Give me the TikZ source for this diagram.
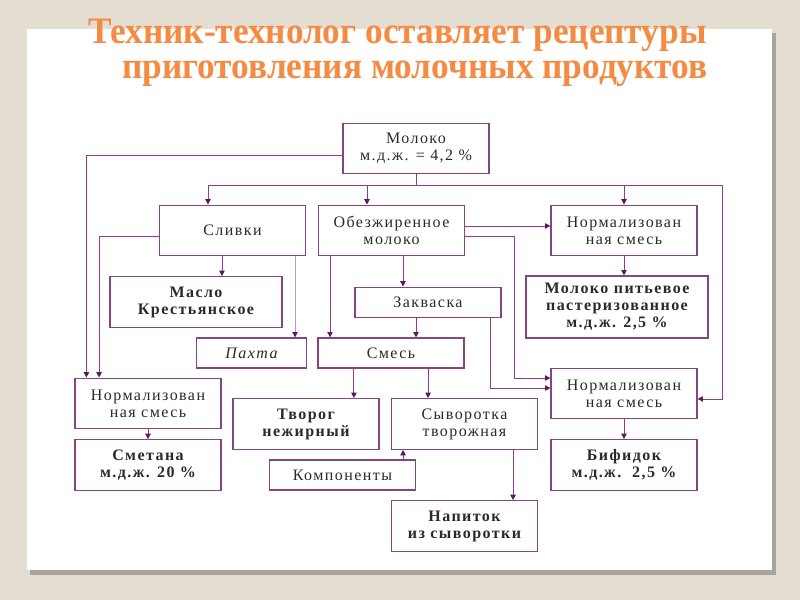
\documentclass[tikz,border=0pt]{standalone}
\usepackage{fontspec}
\usepackage{xcolor}
\usepackage{tikz}
\usetikzlibrary{arrows.meta,positioning,calc}
\newfontfamily\boxfont{Liberation Serif}[LetterSpace=9]
\newfontfamily\titlefont{Liberation Serif}[FakeStretch=0.945]
\definecolor{slidebg}{HTML}{E3DDD2}
\definecolor{slideshadow}{HTML}{A9A59C}
\definecolor{titleorange}{HTML}{F58A42}
\definecolor{boxpurple}{HTML}{85457F}
\definecolor{linepurple}{HTML}{8E3E8A}
\definecolor{tippurple}{HTML}{5A1A5C}
\definecolor{textgray}{HTML}{2A2A2A}
\tikzstyle{box} = [rectangle, draw=boxpurple, line width=0.9pt, fill=white, align=center, text=textgray, minimum width=109.5pt, minimum height=38pt, inner sep=1pt, font=\boxfont\fontsize{12}{12.8}\selectfont]
\tikzstyle{product} = [box, font=\boxfont\bfseries\fontsize{12}{12.8}\selectfont]
\tikzstyle{arrow} = [-{Triangle[length=4pt, width=4pt, color=tippurple]}, draw=linepurple, line width=0.7pt]
\tikzstyle{line} = [draw=linepurple, line width=0.7pt]

\begin{document}
\begin{tikzpicture}[x=0.75pt, y=-0.75pt]
\useasboundingbox (0,0) rectangle (800,600);
% slide
\fill[slidebg] (0,0) rectangle (800,600);
\fill[slideshadow] (30,33) rectangle (776,575);
\fill[white] (27,29) rectangle (772,570);
\node[anchor=base west, inner sep=0, align=left, text=titleorange, font=\titlefont\bfseries\fontsize{28}{26}\selectfont] (title) at (88,78) {Техник-технолог оставляет рецептуры\\\hspace*{25.5pt}приготовления молочных продуктов};

% boxes
\node[box] (milk) at (416,148.5) {Молоко\\м.д.ж. = 4,2 \%};
\node[box] (cream) at (232.5,230.5) {Сливки};
\node[box] (skim) at (391.5,230.5) {Обезжиренное\\молоко};
\node[box] (normtop) at (624,230.5) {Нормализован\\ная смесь};
\node[product, minimum width=129pt] (butter) at (196,302) {Масло\\Крестьянское};
\node[box, minimum height=23pt] (starter) at (428,302.5) {Закваска};
\node[product, minimum width=136.5pt, minimum height=46.5pt] (drink) at (617,307) {Молоко питьевое\\пастеризованное\\м.д.ж. 2,5 \%};
\node[box, minimum width=82pt, minimum height=22.5pt, font=\boxfont\itshape\fontsize{12}{12.8}\selectfont] (pakhta) at (251.5,353) {Пахта};
\node[box, minimum height=22.5pt] (mix) at (391,353) {Смесь};
\node[box] (normleft) at (148,403.5) {Нормализован\\ная смесь};
\node[box] (normmid) at (624,393.5) {Нормализован\\ная смесь};
\node[product] (curd) at (306,424) {Творог\\нежирный};
\node[box] (whey) at (464.5,424) {Сыворотка\\творожная};
\node[product] (sourcream) at (148,465) {Сметана\\м.д.ж. 20 \%};
\node[box, minimum height=22.5pt] (components) at (342.5,475) {Компоненты};
\node[product] (bifidok) at (624,465) {Бифидок\\м.д.ж.~~2,5 \%};
\node[product] (wheydrink) at (464.5,526) {Напиток\\из сыворотки};

% connectors
\coordinate (bus) at ($(milk.south)+(0,11)$);
\coordinate (rside) at ([xshift=18.75pt,yshift=-4.1pt]normmid.east);
\coordinate (skimturn) at ([xshift=36.8pt,yshift=-4.1pt]skim.east);
\draw[line] (milk.south) -- (bus);
\draw[arrow] (bus) -| ([xshift=-18.4pt]cream.north);
\draw[arrow] (bus) -| ([xshift=-18.4pt]skim.north);
\draw[arrow] (bus) -| (normtop.north);
\draw[arrow] (bus) -| (rside) -- ([yshift=-4.1pt]normmid.east);
\draw[arrow] ([yshift=-5pt]milk.west) -| ([xshift=-46.2pt]normleft.north);
\draw[arrow] ([yshift=-4.1pt]cream.west) -| ([xshift=-36.7pt]normleft.north);
\draw[arrow] ([xshift=-7.9pt]cream.south) -- ([xshift=-7.9pt]cream.south |- butter.north);
\draw[arrow, draw=linepurple!55] ([xshift=46.9pt]cream.south) -- ([xshift=46.9pt]cream.south |- pakhta.north);
\draw[arrow] ([xshift=-46.1pt]skim.south) -- ([xshift=-46.1pt]skim.south |- mix.north);
\draw[arrow] ([xshift=8.6pt]skim.south) -- ([xshift=8.6pt]skim.south |- starter.north);
\draw[arrow] ([yshift=3.4pt]skim.east) -- ([yshift=3.4pt]normtop.west);
\draw[arrow] ([yshift=-4.1pt]skim.east) -- (skimturn) |- ([yshift=11.6pt]normmid.west);
\draw[arrow] ([xshift=-9pt]starter.south) -- ([xshift=-9pt]starter.south |- mix.north);
\draw[arrow] ([xshift=46.5pt]starter.south) |- ([yshift=4.1pt]normmid.west);
\draw[arrow] (normtop.south) -- (normtop.south |- drink.north);
\draw[arrow] ([xshift=-27.8pt]mix.south) -- ([xshift=-27.8pt]mix.south |- curd.north);
\draw[arrow] ([xshift=27.8pt]mix.south) -- ([xshift=27.8pt]mix.south |- whey.north);
\draw[arrow] (normleft.south) -- (sourcream.north);
\draw[arrow] ([xshift=45.4pt]components.north) -- ([xshift=45.4pt]components.north |- whey.south);
\draw[arrow] ([xshift=36.4pt]whey.south) -- ([xshift=36.4pt]whey.south |- wheydrink.north);
\draw[arrow] (normmid.south) -- (bifidok.north);
\end{tikzpicture}
\end{document}
